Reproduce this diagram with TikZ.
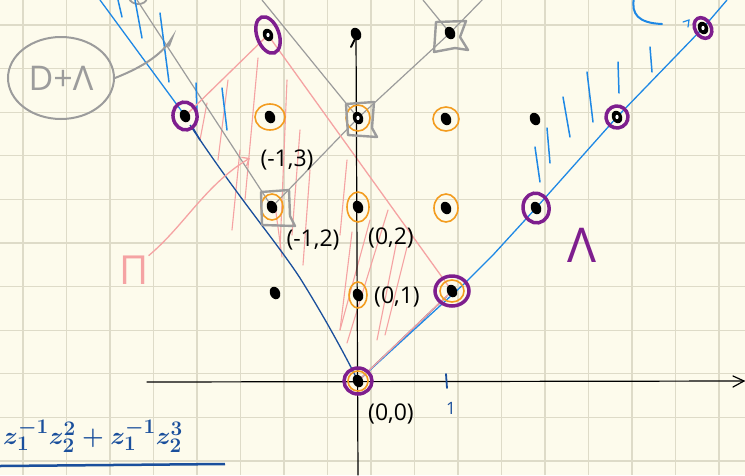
\documentclass[tikz,border=0pt]{standalone}
\usepackage{fontspec}
\setmainfont{Open Sans}
\usetikzlibrary{arrows.meta,shapes.geometric}
\definecolor{bg}{HTML}{FDFBEC}
\definecolor{gridc}{HTML}{DEDBC8}
\definecolor{lblue}{HTML}{1E88E5}
\definecolor{dblue}{HTML}{1A4F9C}
\definecolor{pinkc}{HTML}{F5A3A3}
\definecolor{orangec}{HTML}{F39C1F}
\definecolor{purplec}{HTML}{7E1E8E}
\definecolor{grayc}{HTML}{9C9C9C}
\begin{document}
\begin{tikzpicture}[x=1pt,y=-1pt,
  gridline/.style={draw=gridc,line width=1.1pt},
  pinkl/.style={draw=pinkc,line width=1.3pt,line cap=round},
  hatchp/.style={draw=pinkc,line width=1.1pt,line cap=round},
  hatchb/.style={draw=lblue,line width=1.5pt,line cap=round},
  grayl/.style={draw=grayc,line width=1.2pt},
  grays/.style={draw=grayc,line width=2.4pt,line join=round},
  lbl/.style={font=\fontsize{23}{23}\selectfont,text=black,inner sep=0pt},
  ocirc/.style={draw=orangec,line width=1.6pt},
  pcirc/.style={draw=purplec,line width=3.5pt},
  axis/.style={draw=black,line width=1.2pt,line cap=round}]
\useasboundingbox (0,0) rectangle (745,475);
\fill[bg] (0,0) rectangle (745,475);
\foreach \i in {0,...,16} \draw[gridline] ({23+43.5*\i},0) -- ({23+43.5*\i},475);
\foreach \j in {0,...,10} \draw[gridline] (0,{25+43.6*\j}) -- (745,{25+43.6*\j});

% lattice points
\coordinate (O) at (358,381);
\coordinate (P01) at (358,295);
\coordinate (P02) at (358,207);
\coordinate (P03) at (358,118);
\coordinate (P04) at (356,34);
\coordinate (P11) at (452,291);
\coordinate (P12) at (446,208);
\coordinate (P13) at (446,119);
\coordinate (P14) at (450,33);
\coordinate (Pm11) at (275,293);
\coordinate (Pm12) at (272,207);
\coordinate (Pm13) at (270,117);
\coordinate (Pm14) at (268,35);
\coordinate (Pm23) at (185,116);
\coordinate (P22) at (536,208);
\coordinate (P23) at (535,119);
\coordinate (P33) at (617,117);
\coordinate (P44) at (703,28);

% pink hatching
\foreach \a/\b/\c/\d in {207/103/200/140, 228/80/218/160, 258/58/245/200, 287/80/280/250,
  275/205/282/257, 310/170/303/265, 347/160/340/235, 370/220/340/330, 388/210/347/343,
  397/240/377/340, 407/247/385/335, 352/232/340/330, 300/130/292/235, 240/150/232/230}
  \draw[hatchp] (\a,\b) -- (\c,\d);

% gray cones of D + Lambda
\coordinate (g1) at (137,0);
\coordinate (g2) at (485,-3);
\coordinate (g3) at (262,0);
\coordinate (g4) at (423,0);
\draw[grayl] (g1) -- (Pm12) -- (P03) -- (P14) -- (g2);
\draw[grayl] (g3) -- (P03);
\draw[grayl] (g4) -- (P14);
\draw[grays,line width=1.8pt] (129,-2) .. controls (131,6) and (146,6) .. (147,-2);

% blue boundary of the cone
\coordinate (b1) at (100,0);
\coordinate (b2) at (727,0);
\draw[lblue,line width=1.3pt] (b1) -- (183,113);
\draw[dblue,line width=1.3pt] (190,125) .. controls (240,200) and (275,240) .. (300,278)
  .. controls (325,318) and (345,355) .. (O);
\draw[dblue,line width=1.3pt] (O) -- (447,296);
\draw[lblue,line width=1.3pt] (O) -- (465,283) -- (493,255) -- (P22) -- (P33) -- (P44) -- (b2);
\draw[dblue,line width=1.5pt,line cap=round] (193,128) -- (200,140);
% blue hatching
\foreach \a/\b/\c/\d in {118/0/122/17, 135/0/142/38, 160/13/169/82, 196/83/197/113, 222/88/227/130,
  535/147/540/182, 547/128/550/163, 563/97/570/137, 587/72/593/122, 618/62/619/93, 650/47/652/72}
  \draw[hatchb] (\a,\b) -- (\c,\d);
\draw[hatchb,line width=2pt] (634,-2) .. controls (631,14) and (638,23) .. (662,24);
\draw[hatchb,line width=1.2pt] (683,22) -- (689,20) -- (688,27);

% pink polygon
\draw[pinkl] (Pm23) -- (Pm14) -- (P11) -- (O);

% axes
\coordinate (xa) at (147,382);
\coordinate (xb) at (744,381);
\coordinate (ya) at (358,475);
\draw[axis] (xa) -- (xb);
\draw[axis] (xb) -- (733,376);
\draw[axis] (xb) -- (733,387);
\draw[axis] (ya) -- (P04);
\draw[axis,line width=1.8pt] (351,47) -- (356,37);
\draw[dblue,line width=1.8pt,line cap=round] (446,374) -- (447,388);
\node[text=dblue,font=\fontsize{17}{17}\selectfont,inner sep=0pt] (one) at (451,408) {1};

% orange circles
\foreach \p/\rx/\ry in {Pm13/15/13, Pm12/11/13, P03/12/13, P02/11/15, P01/9/13, P13/13/12, P12/12/14, P11/12/11, O/10/10}
  \draw[ocirc] (\p) ellipse [x radius=\rx pt, y radius=\ry pt];

% gray squares
\draw[grays] (261,192) -- (289,190) -- (290,216) -- (295,226) -- (262,225) -- cycle;
\draw[grays] (346,104) -- (374,102) -- (372,128) -- (377,137) -- (348,135) -- cycle;
\draw[grays] (436,22) -- (466,21) -- (460,37) -- (468,50) -- (455,48) -- (434,52) -- cycle;

% purple circles
\foreach \p/\rx/\ry/\r in {Pm23/12/14/10, Pm14/11/19/20, P11/17/15/0, P22/13/15/10, P33/11/11/30, P44/8/11/30, O/14/13/0}
  \draw[pcirc,rotate around={\r:(\p)}] (\p) ellipse [x radius=\rx pt, y radius=\ry pt];

% black dots
\foreach \p in {O,P01,P02,P03,P04,P11,P12,P13,P14,Pm11,Pm12,Pm13,Pm14,Pm23,P22,P23,P33,P44}
  \fill[black,rotate around={25:(\p)}] (\p) ellipse [x radius=5pt, y radius=6.5pt];
\foreach \p in {Pm14,P33,P44,P03}
  \fill[white] (\p) ellipse [x radius=1.6pt, y radius=2.2pt];

% labels
\node[lbl] (l13) at (287,160) {(-1,3)};
\node[lbl] (l12) at (313,240) {(-1,2)};
\node[lbl] (l02) at (391,238) {(0,2)};
\node[lbl] (l01) at (397,297) {(0,1)};
\node[lbl] (l00) at (391,414) {(0,0)};

% Pi label and arrow
\node[text=pinkc,font=\fontsize{40}{40}\selectfont,inner sep=0pt] (pi) at (134,270) {Π};
\coordinate (pitip) at (250,158);
\draw[pinkl,-{Straight Barb[length=6pt,width=10pt]}] (pi.north east) .. controls (185,225) and (205,185) .. (pitip);

% D + Lambda
\node[draw=grayc,ellipse,line width=2pt,minimum width=106pt,minimum height=82pt,text=grayc,
  font=\fontsize{34}{34}\selectfont,inner sep=0pt] (dl) at (61,78) {D+Λ};
\coordinate (brace) at (172,38);
\draw[grayc,line width=2pt,line cap=round] (dl.east) .. controls (135,70) and (160,58) .. (brace) -- (169,46);

% Lambda
\node[text=purplec,font=\fontsize{48}{48}\selectfont,inner sep=0pt] (lam) at (582,245) {Λ};

% formula
\node[text=dblue,anchor=west,inner sep=0pt,font={\fontsize{29}{29}\selectfont\boldmath}] (f) at (3,436)
  {$z_1^{-1}z_2^{2}+z_1^{-1}z_2^{3}$};
\coordinate (u1) at (0,466);
\coordinate (u2) at (225,464);
\draw[dblue,line width=2.5pt] (u1) -- (u2);
\end{tikzpicture}
\end{document}
